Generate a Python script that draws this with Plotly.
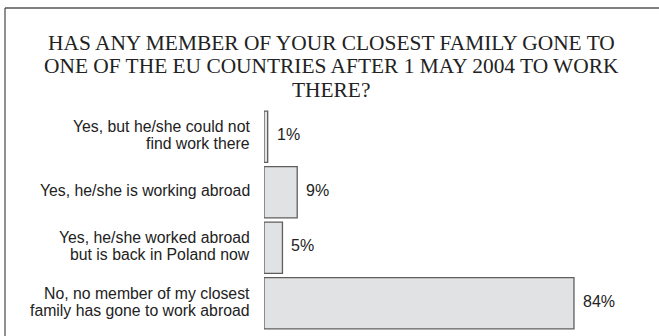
import plotly.graph_objects as go

# Survey answers (top to bottom), each split into its printed lines, and shares in percent
answers = [
    "Yes, but he/she could not|find work there",
    "Yes, he/she is working abroad",
    "Yes, he/she worked abroad|but is back in Poland now",
    "No, no member of my closest|family has gone to work abroad",
]
shares = [1, 9, 5, 84]
share_labels = [f"{v}%" for v in shares]

title_lines = [
    "HAS ANY MEMBER OF YOUR CLOSEST FAMILY GONE TO",
    "ONE OF THE EU COUNTRIES AFTER 1 MAY 2004 TO WORK",
    "THERE?",
]

W, H = 659, 336
ml, mr, mt, mb = 264, 26, 109, 5
pw = W - ml - mr
ph = H - mt - mb

SANS = "Liberation Sans, Arial, sans-serif"
SERIF = "Liberation Serif, Times New Roman, serif"
INK = "#222"


def py(pixel_y):
    """Convert a page pixel row to paper y."""
    return (H - mb - pixel_y) / ph


def px(pixel_x):
    """Convert a page pixel column to paper x."""
    return (pixel_x - ml) / pw


fig = go.Figure(
    go.Bar(
        x=shares,
        y=answers,
        orientation="h",
        marker=dict(color="#e1e2e4", line=dict(color="#5e5e5e", width=1.3)),
        hoverinfo="skip",
    )
)

# Category labels, one annotation per printed line with tight line spacing
line_gap = 16.7
for cat in answers:
    parts = cat.split("|")
    n = len(parts)
    for i, part in enumerate(parts):
        offset = (i - (n - 1) / 2) * line_gap
        fig.add_annotation(
            x=0, y=cat, xref="x", yref="y",
            text=part, showarrow=False,
            xanchor="right", yanchor="middle",
            xshift=-12, yshift=-offset + 1.5,
            font=dict(family=SANS, size=15.8, color=INK),
        )

# Value labels beside each bar
for cat, v, lab in zip(answers, shares, share_labels):
    fig.add_annotation(
        x=v, y=cat, xref="x", yref="y",
        text=lab, showarrow=False,
        xanchor="left", yanchor="middle",
        xshift=7, yshift=2,
        font=dict(family=SANS, size=16, color=INK),
    )

# Title, one line per annotation
title_centers = [42.5, 66.3, 90.0]
for line, cy in zip(title_lines, title_centers):
    fig.add_annotation(
        x=px(331), y=py(cy), xref="paper", yref="paper",
        text=line, showarrow=False,
        xanchor="center", yanchor="middle",
        font=dict(family=SERIF, size=21.4, color=INK),
    )

# Frame around the chart: left and top edges
fig.add_shape(type="line", xref="paper", yref="paper",
              x0=px(5), x1=px(5), y0=py(H + 5), y1=py(8),
              line=dict(color="#555", width=1.3))
fig.add_shape(type="line", xref="paper", yref="paper",
              x0=px(5), x1=px(W + 5), y0=py(8), y1=py(8),
              line=dict(color="#555", width=1.3))

fig.update_layout(
    width=W, height=H,
    margin=dict(l=ml, r=mr, t=mt, b=mb),
    paper_bgcolor="white", plot_bgcolor="white",
    bargap=0.08,
    showlegend=False,
    xaxis=dict(range=[0, 100], visible=False, fixedrange=True),
    yaxis=dict(
        autorange="reversed", showticklabels=False,
        showline=False, showgrid=False, zeroline=False, ticks="",
    ),
)

fig.write_html("out.html")
